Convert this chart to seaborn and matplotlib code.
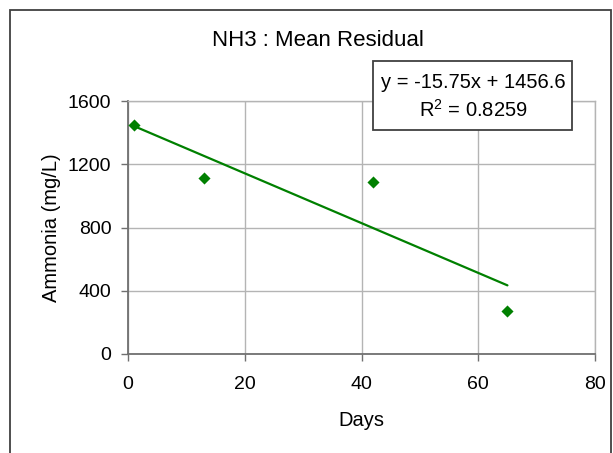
import matplotlib
matplotlib.use("Agg")
import matplotlib.pyplot as plt
import seaborn as sns
import pandas as pd
from matplotlib.patches import Rectangle

# データ
days = [1, 13, 42, 65]
ammonia = [1450, 1115, 1085, 275]
x_ticks = [0, 20, 40, 60, 80]
y_ticks = [0, 400, 800, 1200, 1600]
title = "NH3 : Mean Residual"
eq_line1 = "y = -15.75x + 1456.6"
eq_line2 = "R$^2$ = 0.8259"

sns.set_style("white")
plt.rcParams["font.family"] = ["Liberation Sans", "DejaVu Sans"]
plt.rcParams["mathtext.fontset"] = "custom"
plt.rcParams["mathtext.rm"] = "Liberation Sans"
plt.rcParams["text.color"] = "black"
plt.rcParams["axes.labelcolor"] = "black"
plt.rcParams["xtick.color"] = "black"
plt.rcParams["ytick.color"] = "black"

df = pd.DataFrame({"Days": days, "Ammonia": ammonia})

W, H = 613, 453
fig = plt.figure(figsize=(6.13, 4.53), dpi=100)
ax = fig.add_axes([128 / W, 1 - 354 / H, 467 / W, 253 / H])

# 外枠
fig.patches.append(Rectangle((10 / W, -0.1), 601 / W, 1 - 10 / H + 0.1, transform=fig.transFigure,
                             fill=False, edgecolor="#404040", linewidth=1.3))

green = "#008000"
sns.regplot(data=df, x="Days", y="Ammonia", ax=ax, ci=None, truncate=True,
            marker="D", color=green,
            scatter_kws={"s": 38, "alpha": 1, "edgecolors": green, "linewidths": 0, "zorder": 3},
            line_kws={"linewidth": 1.6, "color": green, "zorder": 2})

ax.set_xlim(0, 80)
ax.set_ylim(0, 1600)
ax.set_xticks(x_ticks)
ax.set_yticks(y_ticks)
ax.grid(True, color="#b4b4b4", linewidth=1)
ax.set_axisbelow(True)
for s in ["top", "right"]:
    ax.spines[s].set_color("#b4b4b4")
    ax.spines[s].set_linewidth(1)
for s in ["left", "bottom"]:
    ax.spines[s].set_color("#707070")
    ax.spines[s].set_linewidth(1.3)
ax.tick_params(axis="both", direction="out", length=5, width=1, color="#707070",
               labelsize=14, bottom=True, left=True)
ax.tick_params(axis="x", pad=11)
ax.tick_params(axis="y", pad=7)

ax.set_xlabel("Days", fontsize=14.5, va="center")
ax.xaxis.set_label_coords(0.5, (354 - 421) / 253)
ax.set_ylabel("Ammonia (mg/L)", fontsize=14.5, va="center")
ax.yaxis.set_label_coords((52 - 128) / 467, 0.5)
fig.text(318 / W, 1 - 41 / H, title, ha="center", va="center", fontsize=16)

# 近似式ボックス
fig.patches.append(Rectangle((373 / W, 1 - 130 / H), 199 / W, 69 / H, transform=fig.transFigure,
                             facecolor="white", edgecolor="#404040", linewidth=1.3, zorder=5))
fig.text(473 / W, 1 - 82 / H, eq_line1, ha="center", va="center", fontsize=14.5, zorder=6)
fig.text(473 / W, 1 - 110 / H, eq_line2, ha="center", va="center", fontsize=14.5, zorder=6)

fig.savefig("out.png", dpi=100)
